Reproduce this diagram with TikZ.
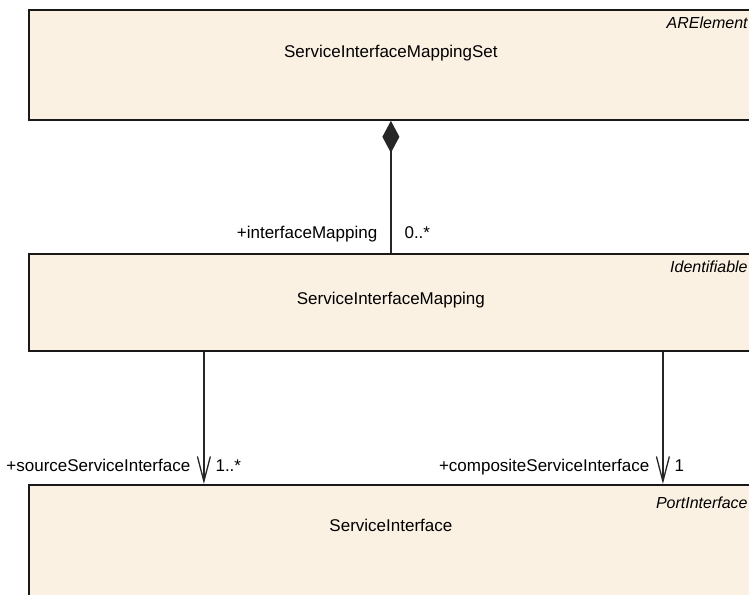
\documentclass[tikz,border=0pt]{standalone}
\usepackage{fontspec}
\setmainfont{Liberation Sans}
\usetikzlibrary{arrows.meta}
\definecolor{classfill}{RGB}{251,241,227}
\tikzset{umlclass/.style={draw=black!90, line width=1.8pt, fill=classfill, anchor=north west,
    inner sep=0pt, minimum width=724pt},
  umltext/.style={inner sep=0pt, font=\fontsize{17}{20}\selectfont},
  stereo/.style={inner sep=0pt, anchor=east, font=\fontsize{16}{19}\selectfont\itshape},
  assoc/.style={draw=black!85, line width=1.3pt}}

\begin{document}
\begin{tikzpicture}[x=1pt,y=-1pt]
  \useasboundingbox (0,0) rectangle (749,594);
  \clip (0,0) rectangle (749,594);
  \node[umlclass, minimum height=110pt] (set) at (28,9) {};
  \node[umlclass, minimum height=97pt] (map) at (28,253) {};
  \node[umlclass, minimum height=130pt] (iface) at (28,484) {};
  \node[umltext] (settitle) at ([yshift=-44pt]set.north) {ServiceInterfaceMappingSet};
  \node[umltext] (maptitle) at ([yshift=-47pt]map.north) {ServiceInterfaceMapping};
  \node[umltext] (ifacetitle) at ([yshift=-41pt]iface.north) {ServiceInterface};
  \node[stereo] (setst) at ([xshift=-6pt,yshift=-14pt]set.north east) {ARElement};
  \node[stereo] (mapst) at ([xshift=-6pt,yshift=-14pt]map.north east) {Identifiable};
  \node[stereo] (ifacest) at ([xshift=-6pt,yshift=-19pt]iface.north east) {PortInterface};
  \draw[assoc, {Diamond[length=32pt,width=17pt]}-] (set.south) -- (map.north)
    node[pos=1, umltext, anchor=base east, xshift=-13pt, yshift=15pt] {+interfaceMapping}
    node[pos=1, umltext, anchor=base west, xshift=13pt, yshift=15pt] {0..*};
  \draw[assoc, -{Straight Barb[length=25pt,width=13pt]}] ([xshift=-187pt]map.south) -- ([xshift=-187pt]iface.north)
    node[pos=1, umltext, anchor=base east, xshift=-13pt, yshift=13pt] {+sourceServiceInterface}
    node[pos=1, umltext, anchor=base west, xshift=11pt, yshift=13pt] {1..*};
  \draw[assoc, -{Straight Barb[length=25pt,width=13pt]}] ([xshift=272pt]map.south) -- ([xshift=272pt]iface.north)
    node[pos=1, umltext, anchor=base east, xshift=-13pt, yshift=13pt] {+compositeServiceInterface}
    node[pos=1, umltext, anchor=base west, xshift=11pt, yshift=13pt] {1};
\end{tikzpicture}
\end{document}
